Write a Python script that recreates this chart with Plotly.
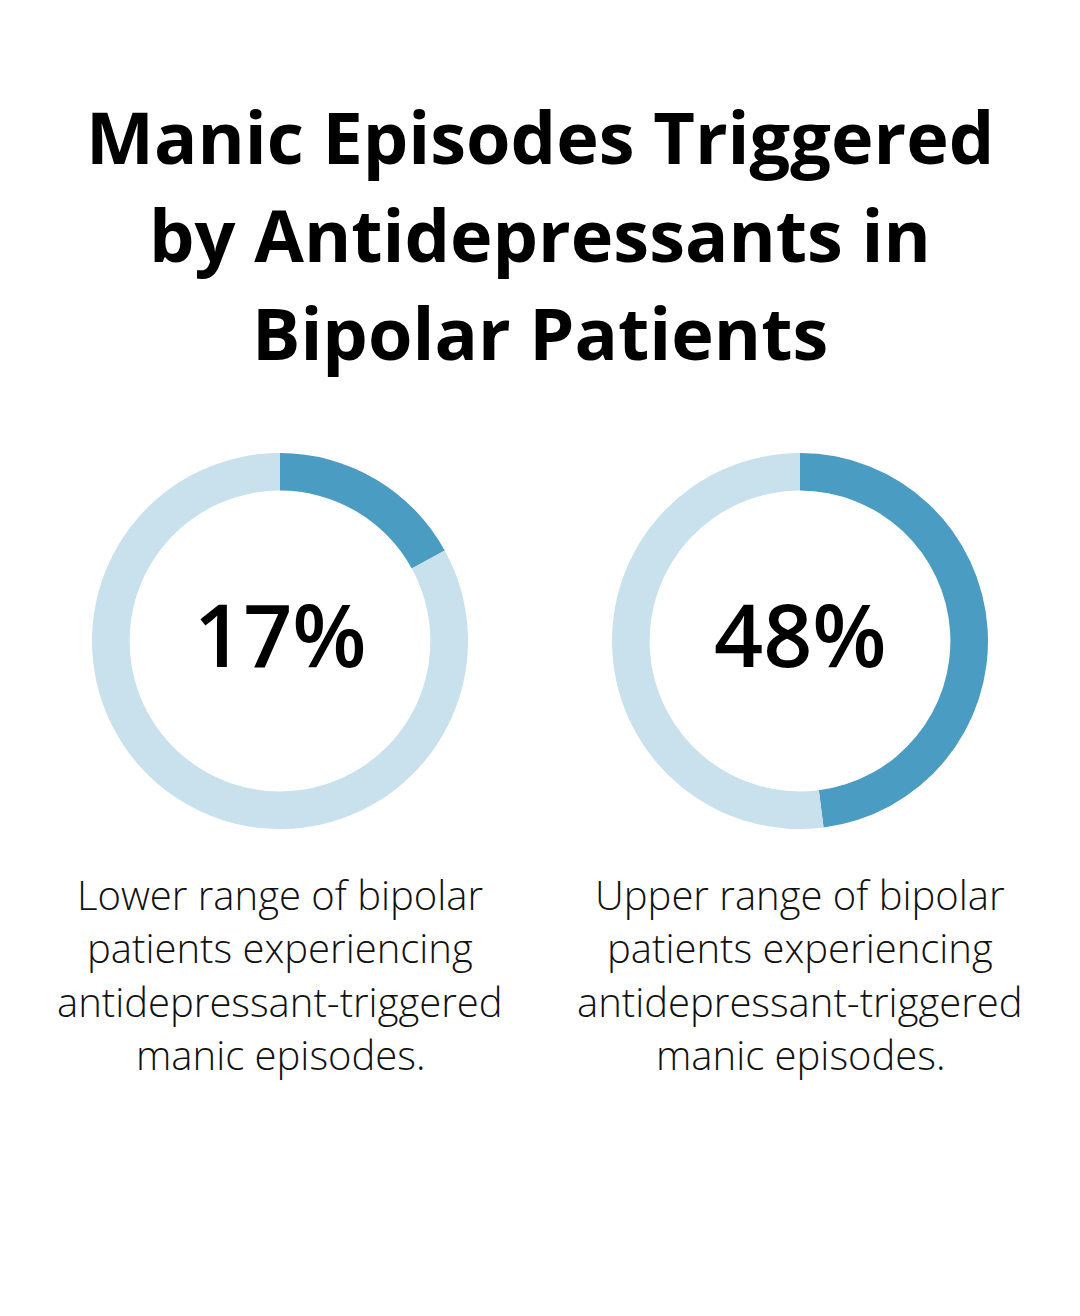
import plotly.graph_objects as go

# chart data
title_lines = ["Manic Episodes Triggered", "by Antidepressants in", "Bipolar Patients"]
shares = [17, 48]
share_labels = ["17%", "48%"]
descriptions = [
    ["Lower range of bipolar", "patients experiencing", "antidepressant-triggered", "manic episodes."],
    ["Upper range of bipolar", "patients experiencing", "antidepressant-triggered", "manic episodes."],
]

W, H = 1080, 1316
OFF = 8  # the page body has an 8px margin, positions below are page pixels
DARK = "#4b9cc3"
LIGHT = "#c8e1ed"

centers_x = [280, 800]   # donut centres, page px
center_y = 641
radius = 188


def px_x(x):
    return (x - OFF) / W


def px_y(y):
    """page row from top -> paper y"""
    return (H - (y - OFF)) / H


fig = go.Figure()

for i, share in enumerate(shares):
    cx = centers_x[i]
    fig.add_trace(go.Pie(
        values=[share, 100 - share],
        labels=["share", "rest"],
        sort=False,
        direction="clockwise",
        rotation=0,
        hole=0.8,
        marker=dict(colors=[DARK, LIGHT], line=dict(width=0)),
        textinfo="none",
        hoverinfo="skip",
        showlegend=False,
        domain=dict(x=[px_x(cx - radius), px_x(cx + radius)],
                    y=[px_y(center_y + radius), px_y(center_y - radius)]),
    ))

annotations = []

# title, one annotation per line to keep the original line spacing
for j, line in enumerate(title_lines):
    annotations.append(dict(
        text=line, x=px_x(540), y=px_y(135.6 + j * 98.2), xref="paper", yref="paper",
        xanchor="center", yanchor="middle", showarrow=False,
        font=dict(family="Open Sans", size=72, weight=700, color="#000000"),
    ))

for i, lab in enumerate(share_labels):
    annotations.append(dict(
        text=lab, x=px_x(centers_x[i]), y=px_y(633.5), xref="paper", yref="paper",
        xanchor="center", yanchor="middle", showarrow=False,
        font=dict(family="Open Sans", size=86, weight=600, color="#000000"),
    ))
    for j, line in enumerate(descriptions[i]):
        annotations.append(dict(
            text=line, x=px_x(centers_x[i]), y=px_y(894.5 + j * 53.3),
            xref="paper", yref="paper",
            xanchor="center", yanchor="middle", showarrow=False,
            font=dict(family="Open Sans", size=40, weight=300, color="#111111"),
        ))

fig.update_layout(
    width=W, height=H,
    margin=dict(l=0, r=0, t=0, b=0),
    paper_bgcolor="white",
    plot_bgcolor="white",
    annotations=annotations,
)

fig.write_html("out.html")
